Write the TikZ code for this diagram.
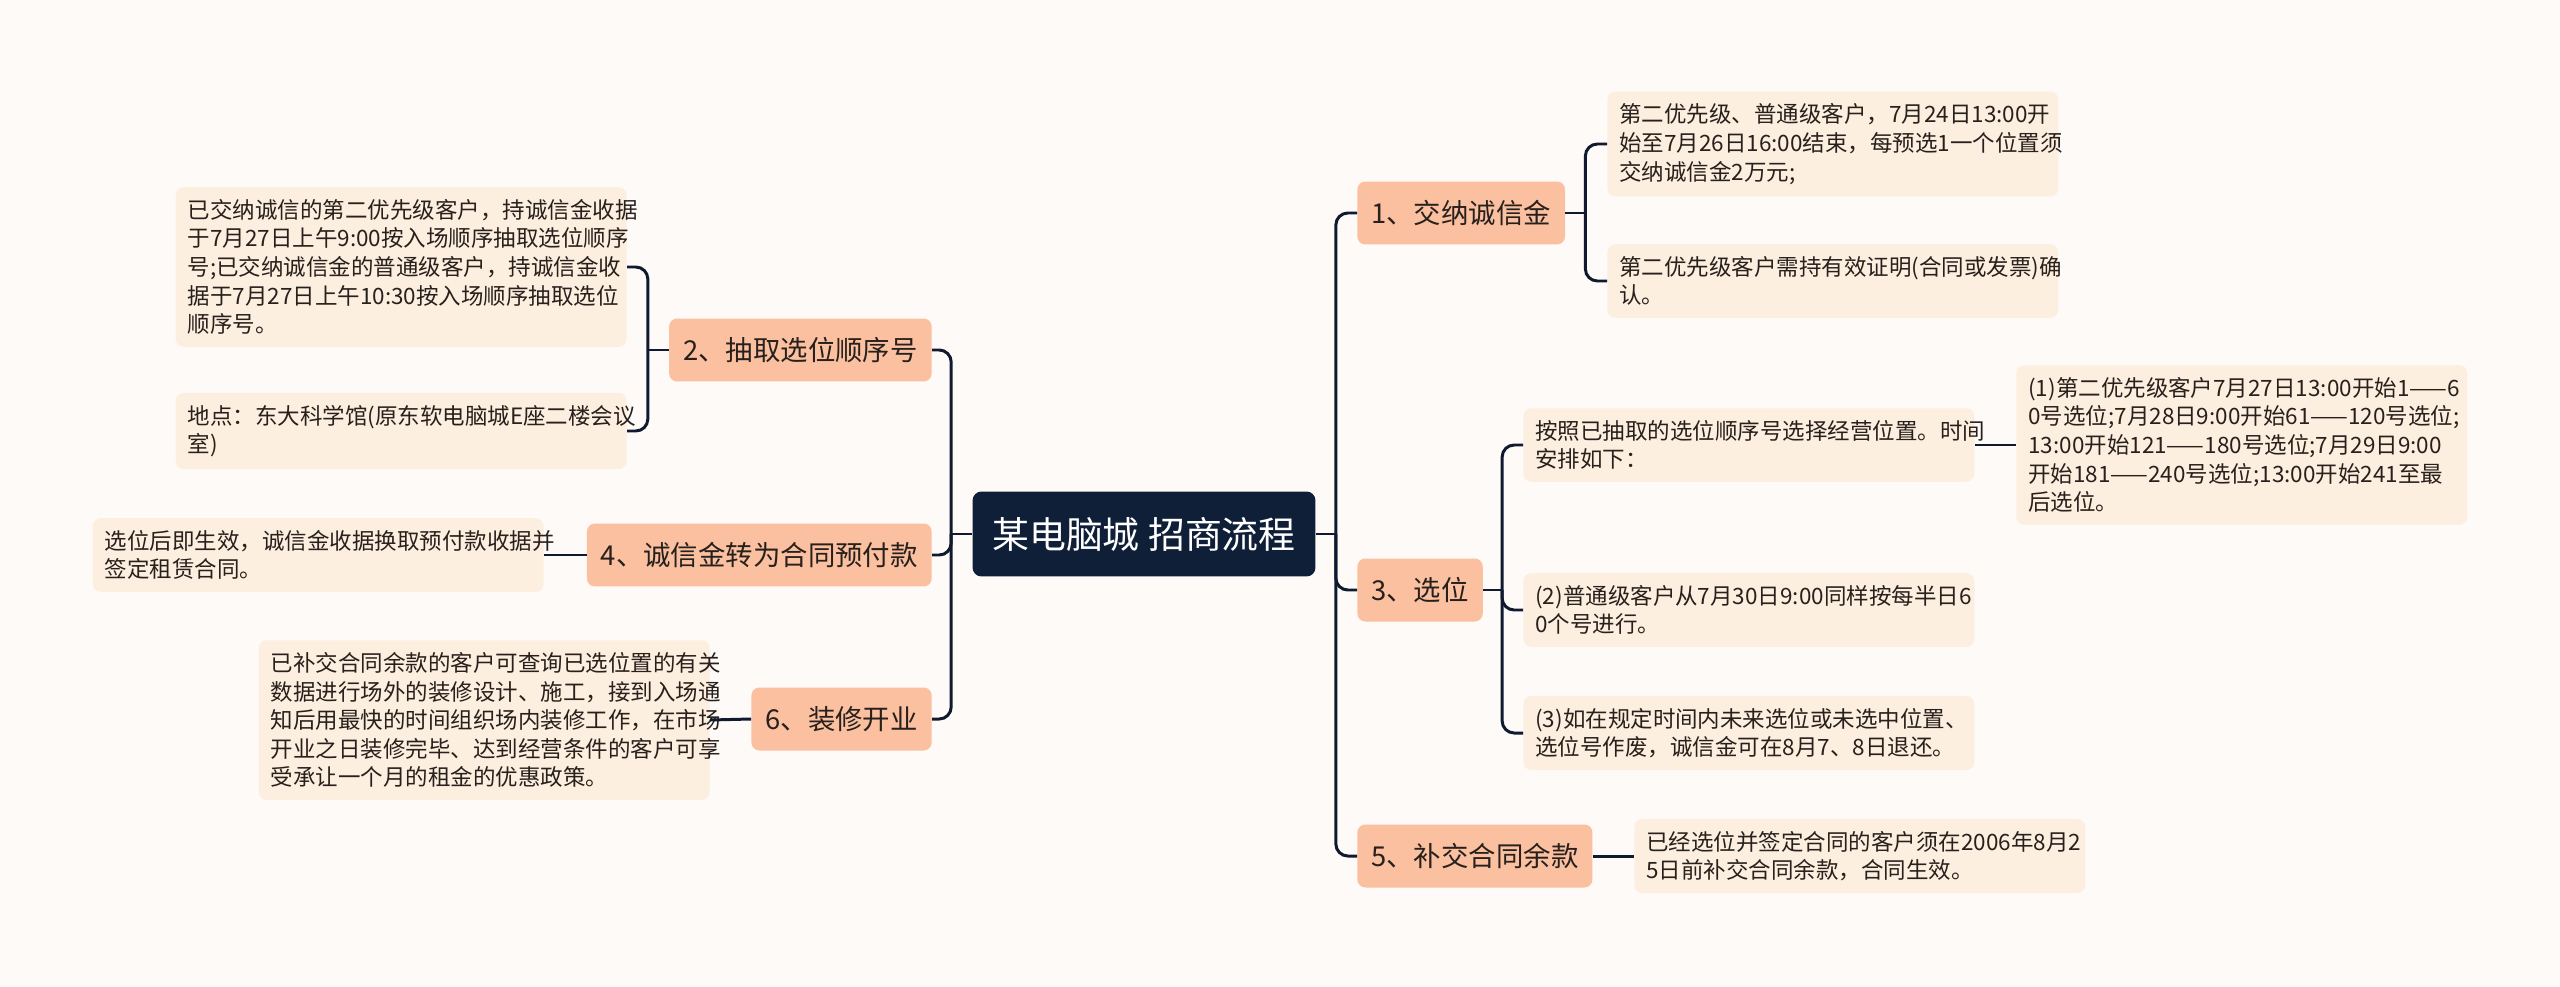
\documentclass[tikz,border=0pt]{standalone}
\usepackage{fontspec}
\setmainfont{Noto Sans CJK SC}
\usetikzlibrary{calc}
\definecolor{bgcol}{RGB}{254,250,248}
\definecolor{rootcol}{RGB}{16,31,56}
\definecolor{brcol}{RGB}{250,192,160}
\definecolor{leafcol}{RGB}{253,239,223}
\definecolor{linecol}{RGB}{16,26,46}
\definecolor{txtcol}{RGB}{40,32,28}

\begin{document}
\begin{tikzpicture}[x=0.02cm, y=-0.02cm,
    rootbox/.style={fill=rootcol, text=white, rounded corners=0.18cm,
      minimum width=6.86cm, minimum height=1.7cm, inner sep=0pt,
      font=\fontsize{21}{25}\selectfont},
    branchbox/.style={fill=brcol, text=txtcol, rounded corners=0.16cm,
      minimum height=1.26cm, inner xsep=0.28cm, inner ysep=0pt,
      font=\fontsize{15.6}{19}\selectfont},
    leafbox/.style={fill=leafcol, text=txtcol, rounded corners=0.16cm,
      text width=8.54cm, align=left, inner xsep=0.24cm, inner ysep=0.24cm,
      font=\fontsize{12.8}{16.3}\selectfont},
    link/.style={draw=linecol, line width=1.7pt, rounded corners=0.24cm}]
  \fill[bgcol] (0,0) rectangle (2560,987);
  \useasboundingbox (0,0) rectangle (2560,987);

  % centre
  \node[rootbox] (root) at (1144,534) {某电脑城 招商流程};

  % right branches
  \node[branchbox, anchor=west] (b1) at (1357,213) {1、交纳诚信金};
  \node[branchbox, anchor=west] (b3) at (1357,590) {3、选位};
  \node[branchbox, anchor=west] (b5) at (1357,856) {5、补交合同余款};

  % left branches
  \node[branchbox, anchor=east] (b2) at (932,350) {2、抽取选位顺序号};
  \node[branchbox, anchor=east] (b4) at (932,555) {4、诚信金转为合同预付款};
  \node[branchbox, anchor=east] (b6) at (932,719) {6、装修开业};

  % leaves of 1
  \node[leafbox, anchor=west] (l1a) at (1607,144)
    {第二优先级、普通级客户，7月24日13:00开\\始至7月26日16:00结束，每预选1一个位置须\\交纳诚信金2万元;};
  \node[leafbox, anchor=west] (l1b) at (1607,281)
    {第二优先级客户需持有效证明(合同或发票)确\\认。};

  % leaves of 3
  \node[leafbox, anchor=west] (l3a) at (1523,445)
    {按照已抽取的选位顺序号选择经营位置。时间\\安排如下：};
  \node[leafbox, anchor=west] (l3aa) at (2016,445)
    {\mbox{(1)第二优先级客户7月27日13:00开始1——6}\\\mbox{0号选位;7月28日9:00开始61——120号选位;}\\\mbox{13:00开始121——180号选位;7月29日9:00}\\\mbox{开始181——240号选位;13:00开始241至最}\\后选位。};
  \node[leafbox, anchor=west] (l3b) at (1523,610)
    {(2)普通级客户从7月30日9:00同样按每半日6\\0个号进行。};
  \node[leafbox, anchor=west] (l3c) at (1523,733)
    {(3)如在规定时间内未来选位或未选中位置、\\选位号作废，诚信金可在8月7、8日退还。};

  % leaf of 5
  \node[leafbox, anchor=west] (l5) at (1634,856)
    {已经选位并签定合同的客户须在2006年8月2\\5日前补交合同余款，合同生效。};

  % leaves of 2
  \node[leafbox, anchor=east] (l2a) at (627,267)
    {已交纳诚信的第二优先级客户，持诚信金收据\\于7月27日上午9:00按入场顺序抽取选位顺序\\号;已交纳诚信金的普通级客户，持诚信金收\\据于7月27日上午10:30按入场顺序抽取选位\\顺序号。};
  \node[leafbox, anchor=east] (l2b) at (627,431)
    {地点：东大科学馆(原东软电脑城E座二楼会议\\室)};

  % leaf of 4
  \node[leafbox, anchor=east] (l4) at (544,555)
    {选位后即生效，诚信金收据换取预付款收据并\\签定租赁合同。};

  % leaf of 6
  \node[leafbox, anchor=east] (l6) at (710,720)
    {已补交合同余款的客户可查询已选位置的有关\\数据进行场外的装修设计、施工，接到入场通\\知后用最快的时间组织场内装修工作，在市场\\开业之日装修完毕、达到经营条件的客户可享\\受承让一个月的租金的优惠政策。};

  % joints
  \coordinate (rsp) at ($(root.east)+(20,0)$);
  \coordinate (lsp) at ($(root.west)+(-21,0)$);
  \coordinate (c1) at ($(b1.east)+(20,0)$);
  \coordinate (c3) at ($(b3.east)+(19,0)$);
  \coordinate (c2) at ($(b2.west)+(-21,0)$);

  % connectors
  \draw[link] (root.east) -- (rsp);
  \draw[link] (root.west) -- (lsp);
  \foreach \b in {b1,b3,b5} \draw[link] (rsp) |- (\b.west);
  \foreach \b in {b2,b4,b6} \draw[link] (lsp) |- (\b.east);
  \draw[link] (b1.east) -- (c1);
  \foreach \l in {l1a,l1b} \draw[link] (c1) |- (\l.west);
  \draw[link] (b3.east) -- (c3);
  \foreach \l in {l3a,l3b,l3c} \draw[link] (c3) |- (\l.west);
  \draw[link] (l3a.east) -- (l3aa.west);
  \draw[link] (b5.east) -- (l5.west);
  \draw[link] (b2.west) -- (c2);
  \foreach \l in {l2a,l2b} \draw[link] (c2) |- (\l.east);
  \draw[link] (b4.west) -- (l4.east);
  \draw[link] (b6.west) -- (l6.east);
\end{tikzpicture}
\end{document}
